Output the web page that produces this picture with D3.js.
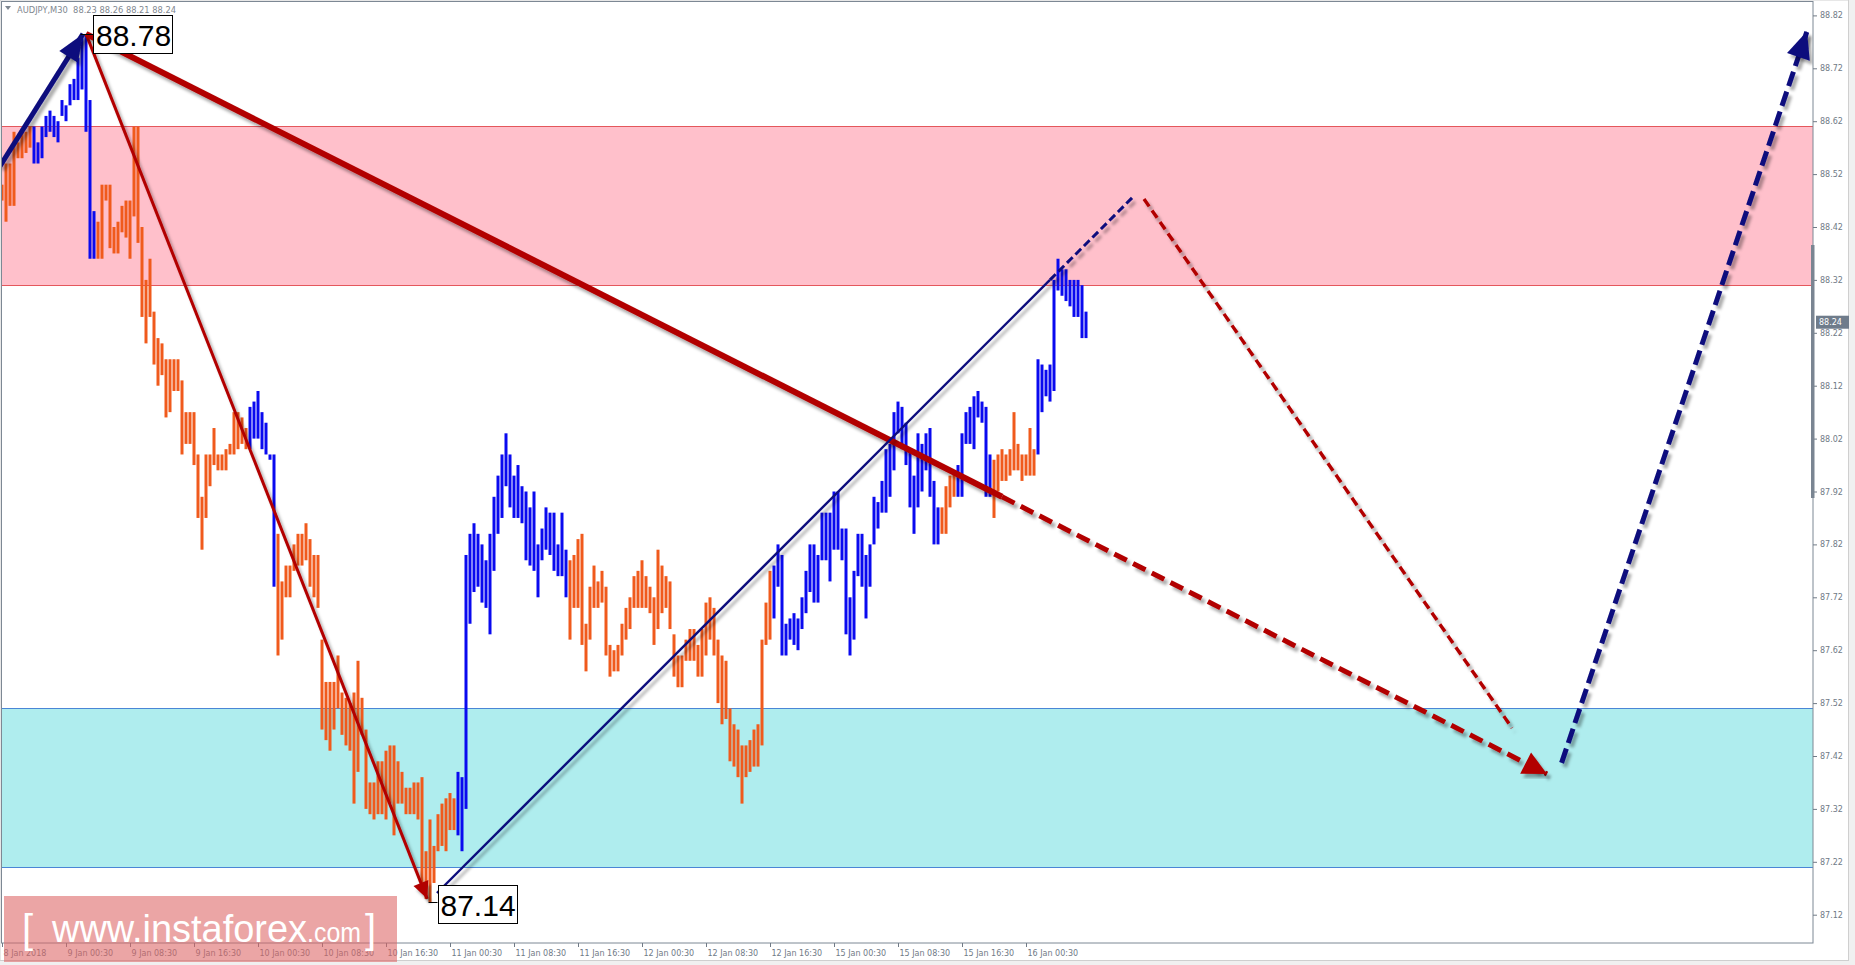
<!DOCTYPE html>
<html><head><meta charset="utf-8">
<script src="https://cdn.jsdelivr.net/npm/d3@7/dist/d3.min.js"></script>
<style>body{margin:0;background:#fff;}svg{display:block}</style>
</head><body>
<svg id="c" width="1855" height="965"></svg>
<script>
// ---------------- DATA ----------------
const header = "AUDJPY,M30  88.23 88.26 88.21 88.24";
const barHigh = [88.50,88.54,88.54,88.60,88.58,88.60,88.60,88.61,88.61,88.58,
88.61,88.63,88.64,88.63,88.62,88.66,88.65,88.69,88.70,88.74,
88.785,88.785,88.66,88.45,88.43,88.50,88.50,88.50,88.42,88.43,
88.46,88.47,88.47,88.61,88.61,88.42,88.32,88.36,88.26,88.21,
88.20,88.17,88.17,88.17,88.17,88.13,88.07,88.07,88.07,87.99,
87.91,87.99,87.99,88.04,87.99,87.99,88.00,88.01,88.07,88.07,
88.06,88.04,88.08,88.09,88.11,88.07,88.05,87.99,87.99,87.84,
87.75,87.78,87.78,87.82,87.84,87.84,87.86,87.83,87.80,87.80,
87.64,87.56,87.56,87.56,87.61,87.54,87.53,87.52,87.54,87.60,
87.53,87.47,87.37,87.37,87.41,87.41,87.43,87.44,87.44,87.41,
87.39,87.36,87.36,87.37,87.37,87.38,87.24,87.30,87.25,87.31,
87.33,87.34,87.35,87.34,87.39,87.38,87.80,87.84,87.86,87.84,
87.82,87.79,87.84,87.91,87.95,87.99,88.03,87.99,87.95,87.97,
87.93,87.92,87.89,87.92,87.82,87.85,87.89,87.88,87.88,87.82,
87.88,87.81,87.79,87.80,87.83,87.84,87.67,87.74,87.78,87.75,
87.77,87.74,87.63,87.62,87.63,87.67,87.70,87.72,87.76,87.77,
87.79,87.76,87.74,87.72,87.81,87.78,87.76,87.75,87.65,87.61,
87.61,87.64,87.66,87.66,87.63,87.66,87.71,87.72,87.70,87.64,
87.61,87.60,87.51,87.48,87.47,87.44,87.44,87.45,87.47,87.48,
87.64,87.71,87.77,87.78,87.82,87.80,87.67,87.68,87.69,87.68,
87.72,87.77,87.82,87.82,87.80,87.88,87.88,87.88,87.92,87.92,
87.85,87.85,87.72,87.77,87.84,87.84,87.80,87.82,87.91,87.90,
87.94,88.00,88.01,88.07,88.09,88.08,88.05,88.00,87.95,88.03,
88.01,88.03,88.04,87.94,87.89,87.89,87.93,87.95,87.96,87.97,
88.03,88.07,88.08,88.10,88.11,88.09,88.08,87.99,87.98,87.99,
88.00,87.99,88.00,88.07,88.01,87.99,87.99,88.04,88.00,88.17,
88.16,88.15,88.16,88.32,88.36,88.34,88.34,88.32,88.32,88.32,88.31,88.26];
const barLow = [88.47,88.43,88.46,88.46,88.55,88.55,88.56,88.57,88.54,88.54,
88.55,88.59,88.60,88.59,88.58,88.63,88.62,88.65,88.66,88.66,
88.68,88.60,88.36,88.36,88.36,88.36,88.47,88.38,88.37,88.37,
88.41,88.40,88.36,88.44,88.39,88.25,88.20,88.25,88.16,88.12,
88.14,88.06,88.07,88.11,88.11,87.99,88.01,88.01,87.97,87.87,
87.81,87.87,87.93,87.97,87.96,87.96,87.96,87.99,87.99,88.00,
88.01,88.00,88.00,88.02,88.02,88.00,87.99,87.98,87.74,87.61,
87.64,87.72,87.72,87.77,87.78,87.78,87.79,87.74,87.72,87.70,
87.47,87.45,87.43,87.47,87.51,87.46,87.44,87.43,87.33,87.39,
87.46,87.32,87.31,87.30,87.31,87.31,87.30,87.33,87.27,87.33,
87.33,87.31,87.31,87.31,87.30,87.18,87.15,87.144,87.18,87.24,
87.25,87.24,87.28,87.28,87.27,87.24,87.32,87.67,87.73,87.74,
87.71,87.70,87.65,87.77,87.84,87.87,87.93,87.89,87.87,87.87,
87.86,87.79,87.78,87.77,87.72,87.79,87.81,87.80,87.77,87.76,
87.76,87.72,87.64,87.70,87.70,87.63,87.58,87.64,87.70,87.70,
87.71,87.61,87.57,87.58,87.58,87.61,87.64,87.66,87.70,87.70,
87.70,87.70,87.69,87.63,87.66,87.69,87.70,87.66,87.57,87.55,
87.55,87.60,87.60,87.60,87.57,87.57,87.61,87.64,87.61,87.52,
87.48,87.49,87.41,87.40,87.38,87.33,87.38,87.39,87.40,87.40,
87.44,87.63,87.64,87.68,87.74,87.61,87.61,87.64,87.63,87.62,
87.66,87.69,87.73,87.71,87.71,87.79,87.79,87.75,87.81,87.81,
87.79,87.65,87.61,87.64,87.76,87.74,87.68,87.74,87.82,87.85,
87.88,87.88,87.91,87.96,88.03,88.00,87.97,87.89,87.84,87.89,
87.92,87.96,87.91,87.82,87.82,87.84,87.84,87.89,87.91,87.91,
87.91,88.01,88.01,88.00,88.06,88.05,87.91,87.91,87.87,87.92,
87.94,87.94,87.95,87.96,87.96,87.94,87.95,87.95,87.95,87.99,
88.07,88.10,88.09,88.11,88.30,88.29,88.28,88.27,88.25,88.25,88.21,88.21];
// wave colouring runs: [firstBar, lastBar, direction]
const colorRuns = [[0,7,"down"],[8,23,"up"],[24,61,"down"],[62,68,"up"],[69,113,"down"],
  [114,141,"up"],[142,192,"down"],[193,234,"up"],[235,238,"down"],[239,247,"up"],
  [248,258,"down"],[259,271,"up"]];
const timeTickBars = [0,16,32,48,64,80,96,112,128,144,160,176,192,208,224,240,256];
const timeTickLabels = ["8 Jan 2018","9 Jan 00:30","9 Jan 08:30","9 Jan 16:30","10 Jan 00:30",
  "10 Jan 08:30","10 Jan 16:30","11 Jan 00:30","11 Jan 08:30","11 Jan 16:30","12 Jan 00:30",
  "12 Jan 08:30","12 Jan 16:30","15 Jan 00:30","15 Jan 08:30","15 Jan 16:30","16 Jan 00:30"];
const priceTicks = [88.82,88.72,88.62,88.52,88.42,88.32,88.22,88.12,88.02,87.92,87.82,87.72,87.62,87.52,87.42,87.32,87.22,87.12];
const lastPrice = 88.24;
const sellZone = [88.61, 88.31];
const buyZone = [87.51, 87.21];
const peakLabel = {bar:20, price:88.785, text:"88.78"};
const lowLabel = {bar:107, price:87.144, text:"87.14"};
// wave lines as [bar, price]
const waveInUp = [[-0.5,88.535],[20.25,88.785]];
const waveDownThin = [[21,88.785],[106.3,87.15]];
const waveDownThick = [[21,88.785],[250,87.91]];
const waveDownThickFcst = [[250,87.91],[386.25,87.386]];
const waveUpThin = [[108.75,87.161],[262,88.32]];
const waveUpThinFcst = [[262,88.32],[282.5,88.475]];
const fcstDownThin = [[285.5,88.473],[377.5,87.473]];
const fcstUpThick = [[389.9,87.407],[451.25,88.79]];

// ---------------- DRAW ----------------
const svg = d3.select("#c");
const plotL = 2, plotR = 1813, plotT = 2, plotB = 943;
const x = d3.scaleLinear().domain([0, 452.75]).range([2, 1813]);
const y = d3.scaleLinear().domain([87.12, 88.82]).range([914.7, 15.4]);
const BLUE = "#0a0aef", ORANGE = "#f05a1c", RED = "#b20000", NAVY = "#0b0b7d";
const AX = "#707a86";

svg.append("rect").attr("width",1855).attr("height",965).attr("fill","#f0f0f0");
svg.append("rect").attr("x",0).attr("y",0).attr("width",1848.5).attr("height",960.5)
  .attr("fill","#fff").attr("stroke","#cfcfcf");

const defs = svg.append("defs");
defs.append("clipPath").attr("id","clip").append("rect")
  .attr("x",plotL).attr("y",plotT).attr("width",plotR-plotL).attr("height",plotB-plotT);
const f = defs.append("filter").attr("id","sh").attr("x","-10%").attr("y","-10%").attr("width","130%").attr("height","130%");
f.append("feDropShadow").attr("dx",3).attr("dy",4).attr("stdDeviation",1.8)
  .attr("flood-color","#000").attr("flood-opacity",0.33);

const plot = svg.append("g").attr("clip-path","url(#clip)");

// zones
function zone(z, fill, line){
  plot.append("rect").attr("x",plotL).attr("width",plotR-plotL)
    .attr("y",y(z[0])).attr("height",y(z[1])-y(z[0])).attr("fill",fill);
  z.forEach(p=>plot.append("line").attr("x1",plotL).attr("x2",plotR)
    .attr("y1",Math.round(y(p))+0.5).attr("y2",Math.round(y(p))+0.5)
    .attr("stroke",line).attr("stroke-width",1));
}
zone(sellZone, "#ffc0cb", "#e4575c");
zone(buyZone, "#afedee", "#4a86d6");

// bars
const dirOf = i => { const r = colorRuns.find(r=>i>=r[0]&&i<=r[1]); return r ? r[2] : "up"; };
plot.append("g").selectAll("rect").data(barHigh).join("rect")
  .attr("x",(d,i)=>x(i)-1.5).attr("width",3)
  .attr("y",d=>y(d)).attr("height",(d,i)=>Math.max(1,y(barLow[i])-y(d)))
  .attr("fill",(d,i)=>dirOf(i)==="up"?BLUE:ORANGE);

// lines
const lineGen = d3.line().x(d=>x(d[0])).y(d=>y(d[1]));
function wave(pts, color, w, dash){
  const p = plot.append("path").attr("d",lineGen(pts)).attr("fill","none")
    .attr("stroke",color).attr("stroke-width",w).attr("filter","url(#sh)");
  if(dash) p.attr("stroke-dasharray",dash);
  return p;
}
function head(pts, color, L, Wd){
  const a = pts[pts.length-2], b = pts[pts.length-1];
  const x1=x(a[0]), y1=y(a[1]), x2=x(b[0]), y2=y(b[1]);
  const dx=x2-x1, dy=y2-y1, n=Math.hypot(dx,dy), ux=dx/n, uy=dy/n;
  const bx=x2-ux*L, by=y2-uy*L;
  const pts2=[[x2,y2],[bx-uy*Wd/2,by+ux*Wd/2],[bx+uy*Wd/2,by-ux*Wd/2]];
  plot.append("polygon").attr("points",pts2.map(p=>p.join(",")).join(" "))
    .attr("fill",color).attr("filter","url(#sh)");
}
wave(waveDownThin, RED, 3);
head(waveDownThin, RED, 17, 16);
wave(waveDownThick, RED, 6);
wave(waveDownThickFcst, RED, 5, "14,7");
head(waveDownThickFcst, RED, 24, 24);
wave(waveUpThin, NAVY, 2.4);
wave(waveUpThinFcst, NAVY, 3, "8,4");
wave(fcstDownThin, RED, 3.4, "9,5");
wave(fcstUpThick, NAVY, 5, "15,6");
head(fcstUpThick, NAVY, 27, 24);
wave(waveInUp, NAVY, 5);
head(waveInUp, NAVY, 27, 22);

// labels
function priceLabel(lbl, above){
  const bx = x(lbl.bar), by = y(lbl.price);
  const boxX = above ? bx+11 : bx+7.5;
  const boxY = above ? by-19 : by-17;
  svg.append("line").attr("x1",bx-1.5).attr("x2",boxX).attr("y1",Math.round(by)+0.5).attr("y2",Math.round(by)+0.5)
    .attr("stroke","#000").attr("stroke-width",1);
  svg.append("rect").attr("x",Math.round(boxX)+0.5).attr("y",Math.round(boxY)+0.5)
    .attr("width",79).attr("height",38).attr("fill","#fff").attr("stroke","#000");
  svg.append("text").attr("x",boxX+3).attr("y",boxY+31).text(lbl.text)
    .attr("font-family","Liberation Sans, Arial, sans-serif").attr("font-size",30).attr("fill","#000");
}
priceLabel(peakLabel, true);
priceLabel(lowLabel, false);

// frame
svg.append("rect").attr("x",plotL-0.5).attr("y",plotT-0.5).attr("width",plotR-plotL+0.5).attr("height",plotB-plotT+0.5)
  .attr("fill","none").attr("stroke","#7d8894");

// right axis
const ya = svg.append("g").attr("transform",`translate(${plotR},0)`)
  .call(d3.axisRight(y).tickValues(priceTicks).tickFormat(d3.format(".2f")).tickSize(4).tickPadding(3));
ya.select(".domain").remove();
ya.selectAll("line").attr("stroke",AX);
ya.selectAll("text").attr("fill",AX).attr("font-family","DejaVu Sans, sans-serif").attr("font-size",8);
// scroll marker on price scale
svg.append("rect").attr("x",plotR-2).attr("y",245).attr("width",3.5).attr("height",253).attr("fill","#7a8592");
// last price tag
const ly = y(lastPrice);
svg.append("rect").attr("x",plotR+3).attr("y",ly-6.5).attr("width",33).attr("height",13).attr("fill","#6f7c8b");
svg.append("text").attr("x",plotR+6).attr("y",ly+3).text(lastPrice.toFixed(2))
  .attr("fill","#fff").attr("font-family","DejaVu Sans, sans-serif").attr("font-size",8);

// bottom axis
const xa = svg.append("g").attr("transform",`translate(0,${plotB})`)
  .call(d3.axisBottom(x).tickValues(timeTickBars).tickFormat((d,i)=>timeTickLabels[i]).tickSize(4).tickPadding(3));
xa.select(".domain").remove();
xa.selectAll("line").attr("stroke",AX);
xa.selectAll("text").attr("text-anchor","start").attr("dx",1).attr("fill",AX)
  .attr("font-family","DejaVu Sans, sans-serif").attr("font-size",8);

// header
svg.append("polygon").attr("points","5,6 11,6 8,10").attr("fill","#7f8790");
svg.append("text").attr("x",17).attr("y",12.5).text(header).attr("xml:space","preserve")
  .style("white-space","pre").attr("fill","#7f8790").attr("font-family","DejaVu Sans, sans-serif").attr("font-size",8.3);

// watermark
const wm = svg.append("g");
wm.append("rect").attr("x",4).attr("y",896).attr("width",393).attr("height",66).attr("fill","#dc6464").attr("opacity",0.58);
const wmFont = "Liberation Sans, Arial, sans-serif";
wm.append("text").attr("x",22).attr("y",943).text("[").attr("fill","#fff").attr("font-family",wmFont).attr("font-size",40);
wm.append("text").attr("x",52).attr("y",942).text("www.instaforex").attr("fill","#fff").attr("font-family",wmFont)
  .attr("font-size",38).attr("textLength",255).attr("lengthAdjust","spacingAndGlyphs");
wm.append("text").attr("x",307).attr("y",942).text(".com").attr("fill","#fff").attr("font-family",wmFont)
  .attr("font-size",27).attr("textLength",54).attr("lengthAdjust","spacingAndGlyphs");
wm.append("text").attr("x",365).attr("y",943).text("]").attr("fill","#fff").attr("font-family",wmFont).attr("font-size",40);
</script>
</body></html>
